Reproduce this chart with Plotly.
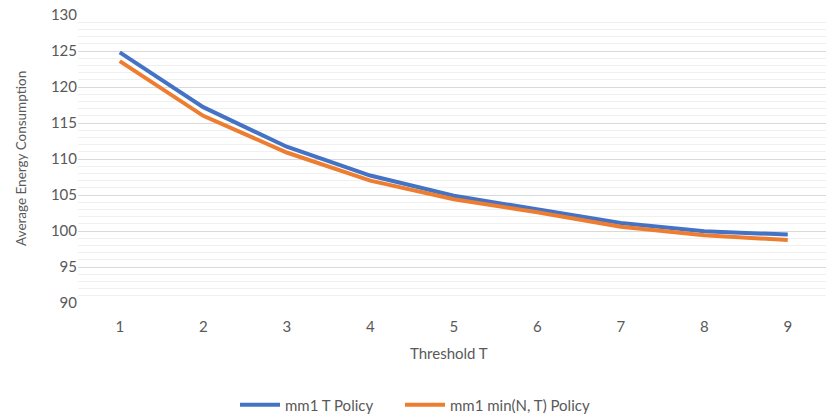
import plotly.graph_objects as go

# Threshold values on the x-axis
thresholds = [1, 2, 3, 4, 5, 6, 7, 8, 9]

# Average energy consumption per policy
mm1_t_policy = [124.8, 117.2, 111.7, 107.7, 104.9, 103.0, 101.1, 99.95, 99.5]
mm1_min_nt_policy = [123.6, 116.0, 110.9, 107.0, 104.4, 102.6, 100.6, 99.4, 98.75]

TEXT = "#595959"
FONT = "Lato"

W, H = 826, 417
L, R, T, B = 78, 0, 15, 114
PW, PH = W - L - R, H - T - B


def px_x(x):
    return (x - L) / PW


def px_y(y):
    return (H - B - y) / PH


fig = go.Figure()
fig.add_trace(go.Scatter(
    x=thresholds, y=mm1_t_policy, mode="lines", name="mm1 T Policy",
    line=dict(color="#4472C4", width=4), legend="legend",
))
fig.add_trace(go.Scatter(
    x=thresholds, y=mm1_min_nt_policy, mode="lines", name="mm1 min(N, T) Policy",
    line=dict(color="#ED7D31", width=4), legend="legend2",
))

legend_common = dict(orientation="h", xanchor="left", xref="paper",
                     yanchor="middle", y=px_y(405),
                     font=dict(size=15, color=TEXT), itemwidth=40,
                     bgcolor="rgba(0,0,0,0)")

fig.update_layout(
    width=W, height=H,
    margin=dict(l=L, r=R, t=T, b=B, autoexpand=False),
    paper_bgcolor="white", plot_bgcolor="white",
    font=dict(family=FONT, size=15, color=TEXT),
    showlegend=True,
    legend=dict(x=px_x(235), **legend_common),
    legend2=dict(x=px_x(400), **legend_common),
    annotations=[
        dict(text="Average Energy Consumption", textangle=-90, showarrow=False,
             xref="paper", yref="paper", x=px_x(21), y=px_y(159),
             xanchor="center", yanchor="middle",
             font=dict(size=13.5, color=TEXT)),
        dict(text="Threshold T", showarrow=False,
             xref="paper", yref="paper", x=px_x(449), y=px_y(353),
             xanchor="center", yanchor="middle",
             font=dict(size=15, color=TEXT)),
    ],
)
fig.update_xaxes(
    range=[0.5, 9.458], tickmode="array", tickvals=thresholds,
    ticktext=[str(t) for t in thresholds],
    showgrid=False, zeroline=False, showline=False, ticks="",
    ticklabelstandoff=13,
)
fig.update_yaxes(
    range=[90, 130], dtick=5, tick0=90,
    showgrid=True, gridcolor="#d9d9d9", gridwidth=1.3,
    minor=dict(dtick=1, showgrid=True, gridcolor="#f0f0f0", gridwidth=1),
    zeroline=False, showline=False, ticks="",
)

fig.write_html("out.html")
